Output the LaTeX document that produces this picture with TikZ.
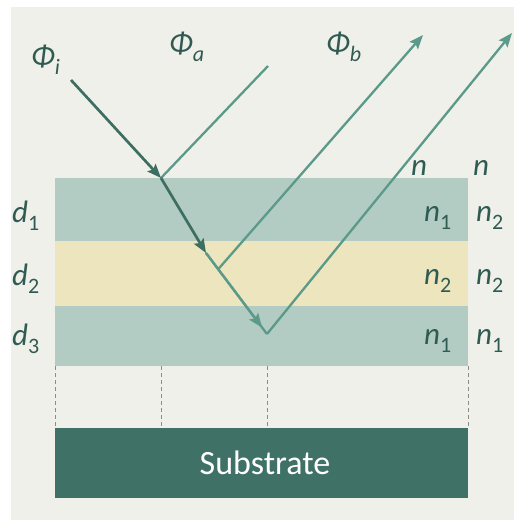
\documentclass[tikz,border=0pt]{standalone}
\usepackage{fontspec}
\setmainfont{Carlito}
\usetikzlibrary{arrows.meta,calc}
\definecolor{bg}{HTML}{F0F0EB}
\definecolor{layerA}{HTML}{B3CCC3}
\definecolor{layerB}{HTML}{ECE5BE}
\definecolor{subst}{HTML}{3F7167}
\definecolor{darkray}{HTML}{3C6F62}
\definecolor{lightray}{HTML}{5B9A89}
\definecolor{labtext}{HTML}{2F5B52}
\definecolor{dashgray}{HTML}{8C8C88}
\newcommand{\labsub}[2]{#1\raisebox{-0.28em}{\fontsize{22}{22}\selectfont #2}}
\begin{document}
\begin{tikzpicture}[x=1pt,y=-1pt,
  arr/.style={-{Stealth[length=14pt,width=11pt,inset=2.5pt]}},
  darkline/.style={draw=darkray,line width=2.7pt},
  lightline/.style={draw=lightray,line width=2.3pt},
  guide/.style={draw=dashgray,line width=0.8pt,dash pattern=on 4pt off 3pt},
  lab/.style={text=labtext,font=\fontsize{31}{31}\selectfont,inner sep=0pt,anchor=base west},
  philab/.style={text=labtext,font=\fontsize{31}{31}\selectfont,inner sep=0pt,anchor=base west}]
\useasboundingbox (0,0) rectangle (514,520);
\fill[white] (0,0) rectangle (514,520);
\fill[bg] (11,7) rectangle (514,520);
% layers
\fill[layerA] (55,178) rectangle (468,241);
\fill[layerB] (55,241) rectangle (468,306);
\fill[layerA] (55,306) rectangle (468,366);
% guide lines
\foreach \gx in {55,161,267,468} \draw[guide] (\gx,366) -- (\gx,428);
% substrate
\node[fill=subst,minimum width=413pt,minimum height=70pt,inner sep=0pt,text=white,
  font=\fontsize{34}{34}\selectfont] (sub) at (261.5,463) {\hspace*{7pt}Substrate};
% ray points
\coordinate (pi) at (71,80);
\coordinate (pA) at (161,178);
\coordinate (pB) at (206,253);
\coordinate (pD) at (267,334);
\coordinate (pArr) at ($(pB)!0.92!(pD)$);
\coordinate (pC) at ($(pB)!0.2!(pD)$);
\coordinate (pa) at (268,66);
\coordinate (pb) at (423,35);
\coordinate (pc) at (512,33);
% rays
\draw[lightline] (pA) -- (pa);
\draw[lightline,arr] (pC) -- (pb);
\draw[lightline,arr] (pD) -- (pc);
\draw[lightline] (pB) -- (pD);
\draw[lightline,arr] (pB) -- (pArr);
\draw[darkline,arr] (pi) -- (pA);
\draw[darkline,arr] (pA) -- (pB);
% labels
\node[philab] (phii) at (31,66) {\labsub{\textit{Φ}}{\textit{i}}};
\node[philab] (phia) at (169,53) {\labsub{\textit{Φ}}{\textit{a}}};
\node[philab] (phib) at (326,53) {\labsub{\textit{Φ}}{\textit{b}}};
\node[lab] (n0a) at (411,175) {\textit{n}};
\node[lab] (n0b) at (473,175) {\textit{n}};
\node[lab] (n1a) at (424,221) {\labsub{\textit{n}}{1}};
\node[lab] (n1b) at (476,221) {\labsub{\textit{n}}{2}};
\node[lab] (n2a) at (424,284) {\labsub{\textit{n}}{2}};
\node[lab] (n2b) at (476,284) {\labsub{\textit{n}}{2}};
\node[lab] (n3a) at (424,344) {\labsub{\textit{n}}{1}};
\node[lab] (n3b) at (476,344) {\labsub{\textit{n}}{1}};
\node[lab] (d1) at (12,222) {\labsub{\textit{d}}{1}};
\node[lab] (d2) at (12,285) {\labsub{\textit{d}}{2}};
\node[lab] (d3) at (12,345) {\labsub{\textit{d}}{3}};
\end{tikzpicture}
\end{document}
